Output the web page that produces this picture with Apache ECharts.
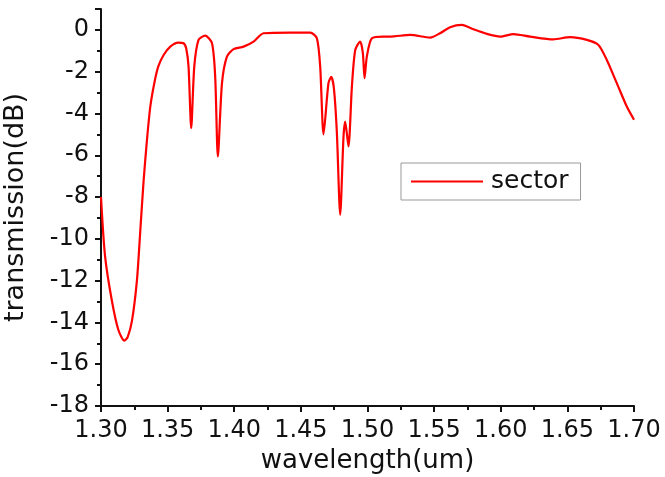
<!DOCTYPE html>
<html>
<head>
<meta charset="utf-8">
<script src="https://cdn.jsdelivr.net/npm/echarts@6/dist/echarts.min.js"></script>
<style>
  html, body { margin: 0; padding: 0; background: #fff; }
  #chart { width: 665px; height: 477px; }
</style>
</head>
<body>
<div id="chart"></div>
<script>
// wavelength (um)
const wavelength = [
  1.300, 1.303, 1.308, 1.313, 1.3175, 1.320, 1.3233, 1.327, 1.3295, 1.332,
  1.3345, 1.337, 1.340, 1.343, 1.347, 1.352, 1.358, 1.362, 1.364, 1.3657,
  1.3677, 1.370, 1.3732, 1.3782, 1.3833, 1.3857, 1.3877, 1.3908, 1.3945, 1.3995,
  1.407, 1.4145, 1.422, 1.442, 1.457, 1.462, 1.4645, 1.467, 1.4707, 1.4728,
  1.4748, 1.477, 1.4795, 1.482, 1.4833, 1.4857, 1.4883, 1.4908, 1.4945, 1.4965,
  1.4978, 1.4995, 1.5033, 1.512, 1.517, 1.532, 1.547, 1.5545, 1.562, 1.5708,
  1.5795, 1.5896, 1.5996, 1.6095, 1.622, 1.6395, 1.652, 1.6646, 1.6733, 1.6796,
  1.6871, 1.6946, 1.700
];
// transmission (dB)
const transmission = [
  -8.0, -10.8, -12.9, -14.35, -14.87, -14.7, -13.9, -11.96, -9.6, -7.2,
  -5.26, -3.67, -2.55, -1.75, -1.2, -0.8, -0.61, -0.64, -0.9, -1.76,
  -4.7, -1.76, -0.48, -0.27, -0.64, -2.24, -6.06, -2.55, -1.28, -0.92,
  -0.8, -0.56, -0.16, -0.13, -0.13, -0.4, -1.76, -5.0, -2.55, -2.25,
  -2.8, -4.9, -8.85, -5.1, -4.39, -5.58, -2.7, -0.96, -0.56, -1.1,
  -2.31, -1.28, -0.4, -0.32, -0.32, -0.24, -0.37, -0.16, 0.13, 0.24,
  0.03, -0.19, -0.32, -0.2, -0.32, -0.45, -0.35, -0.48, -0.72, -1.44,
  -2.55, -3.67, -4.3
];

const chart = echarts.init(document.getElementById('chart'));
const font = 'DejaVu Sans';
const axisColor = '#111';

chart.setOption({
  animation: false,
  backgroundColor: '#fff',
  grid: { left: 101, right: 31, top: 9, bottom: 71, outerBoundsMode: 'none' },
  legend: {
    left: 401,
    top: 163,
    padding: [6, 12, 6, 10],
    borderColor: '#999',
    borderWidth: 1,
    icon: 'rect',
    itemWidth: 72,
    itemHeight: 2,
    textStyle: { fontFamily: font, fontSize: 25, color: '#111', padding: [0, 0, 0, 3] }
  },
  xAxis: {
    type: 'value',
    min: 1.3,
    max: 1.7,
    interval: 0.05,
    name: 'wavelength(um)',
    nameLocation: 'middle',
    nameGap: 40,
    nameTextStyle: { fontFamily: font, fontSize: 26, color: '#111' },
    axisLine: { show: true, onZero: false, lineStyle: { color: axisColor, width: 2 } },
    axisTick: { show: true, length: 6, lineStyle: { color: axisColor, width: 2 } },
    minorTick: { show: true, splitNumber: 2, length: 4, lineStyle: { color: axisColor, width: 2 } },
    splitLine: { show: false },
    axisLabel: {
      fontFamily: font, fontSize: 24, color: '#111', margin: 13,
      formatter: v => v.toFixed(2)
    }
  },
  yAxis: {
    type: 'value',
    min: -18,
    max: 1,
    interval: 2,
    name: 'transmission(dB)',
    nameLocation: 'middle',
    nameGap: 72,
    nameTextStyle: { fontFamily: font, fontSize: 27, color: '#111' },
    axisLine: { show: true, onZero: false, lineStyle: { color: axisColor, width: 2 } },
    axisTick: { show: true, length: 6, lineStyle: { color: axisColor, width: 2 } },
    minorTick: { show: true, splitNumber: 2, length: 4, lineStyle: { color: axisColor, width: 2 } },
    splitLine: { show: false },
    axisLabel: {
      fontFamily: font, fontSize: 24, color: '#111', margin: 12,
      showMaxLabel: false,
      formatter: v => (v % 2 === 0 ? String(v) : '')
    }
  },
  series: [{
    name: 'sector',
    type: 'line',
    data: wavelength.map((w, i) => [w, transmission[i]]),
    symbol: 'none',
    smooth: 0.25,
    lineStyle: { color: '#ff0000', width: 2.2 },
    itemStyle: { color: '#ff0000' }
  }]
});
</script>
</body>
</html>
